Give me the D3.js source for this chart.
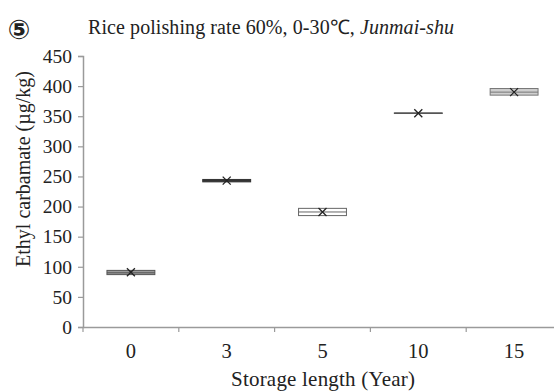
<!DOCTYPE html>
<html>
<head>
<meta charset="utf-8">
<script src="https://cdn.jsdelivr.net/npm/d3@7"></script>
<style>
  html, body { margin: 0; padding: 0; background: #fff; }
  svg { display: block; }
  text { font-family: "Liberation Serif", "Times New Roman", serif; fill: #222; }
</style>
</head>
<body>
<svg id="chart" width="554" height="392"></svg>
<script>
// Storage length categories (years)
const categories = ["0", "3", "5", "10", "15"];
// Ethyl carbamate distribution per storage length (µg/kg)
const q1Values = [87, 241, 185, 354.5, 385];
const q3Values = [94, 245, 197, 355.5, 396];
const medianValues = [90, 243, 191, 355, 390];
const meanValues = [91, 243, 191, 355, 390];
const yTicks = [0, 50, 100, 150, 200, 250, 300, 350, 400, 450];

// Box appearance per category
const boxStyles = [
  { fill: "#9a9a9a", stroke: "#555", width: 1 },
  { fill: "#333", stroke: "#333", width: 1 },
  { fill: "#fff", stroke: "#666", width: 1 },
  { fill: "#555", stroke: "#555", width: 1 },
  { fill: "#cfcfcf", stroke: "#777", width: 1 }
];

const svg = d3.select("#chart");
const plotLeft = 83, plotRight = 562, plotTop = 56, plotBottom = 327;

const x = d3.scaleBand().domain(categories).range([plotLeft, plotRight]).padding(0);
const y = d3.scaleLinear().domain([0, 450]).range([plotBottom, plotTop]);

const axisColor = "#9a9a9a";

// Y axis
const yAxis = svg.append("g")
  .attr("transform", `translate(${plotLeft},0)`)
  .call(d3.axisLeft(y).tickValues(yTicks).tickSize(5).tickPadding(6));
yAxis.select(".domain").attr("stroke", axisColor).attr("stroke-width", 1.5);
yAxis.selectAll(".tick line").attr("stroke", axisColor).attr("stroke-width", 1.2);
yAxis.selectAll(".tick text")
  .attr("font-size", 19.5).attr("fill", "#222");

// X axis: labels centred in bands, tick marks at band boundaries
const xAxis = svg.append("g")
  .attr("transform", `translate(0,${plotBottom})`)
  .call(d3.axisBottom(x).tickSize(0).tickPadding(16).tickSizeOuter(0));
xAxis.select(".domain").attr("stroke", axisColor).attr("stroke-width", 1.5);
xAxis.selectAll(".tick text")
  .attr("font-size", 20.5).attr("fill", "#222");
xAxis.selectAll(".sep")
  .data(categories)
  .join("line")
  .attr("class", "sep")
  .attr("x1", d => x(d)).attr("x2", d => x(d))
  .attr("y1", 0).attr("y2", 5)
  .attr("stroke", axisColor).attr("stroke-width", 1.2);

// Boxes
const boxW = x.bandwidth() * 0.5;
const g = svg.append("g");
categories.forEach((c, i) => {
  const cx = x(c) + x.bandwidth() / 2;
  const st = boxStyles[i];
  g.append("rect")
    .attr("x", cx - boxW / 2)
    .attr("y", y(q3Values[i]))
    .attr("width", boxW)
    .attr("height", Math.max(0.5, y(q1Values[i]) - y(q3Values[i])))
    .attr("fill", st.fill)
    .attr("stroke", st.stroke)
    .attr("stroke-width", st.width);
  g.append("line")
    .attr("x1", cx - boxW / 2).attr("x2", cx + boxW / 2)
    .attr("y1", y(medianValues[i])).attr("y2", y(medianValues[i]))
    .attr("stroke", st.stroke).attr("stroke-width", 1);
  // mean marker
  const my = y(meanValues[i]), s = 4;
  g.append("path")
    .attr("d", `M${cx - s},${my - s}L${cx + s},${my + s}M${cx - s},${my + s}L${cx + s},${my - s}`)
    .attr("stroke", "#222").attr("stroke-width", 1.3).attr("fill", "none");
});

// Title
const title = svg.append("text")
  .attr("x", 88).attr("y", 34)
  .attr("font-size", 20)
  .attr("textLength", 366)
  .attr("lengthAdjust", "spacing");
title.append("tspan").text("Rice polishing rate 60%, 0-30\u2103, ");
title.append("tspan").attr("font-style", "italic").text("Junmai-shu");

// Panel number
svg.append("text")
  .attr("x", 19).attr("y", 39)
  .attr("text-anchor", "middle")
  .style("font-family", "'DejaVu Sans', sans-serif")
  .attr("font-weight", "bold")
  .attr("font-size", 27)
  .text("\u2464");

// Axis titles
svg.append("text")
  .attr("transform", "translate(30,169) rotate(-90)")
  .attr("text-anchor", "middle")
  .attr("font-size", 20)
  .text("Ethyl carbamate (\u00b5g/kg)");

svg.append("text")
  .attr("x", 323).attr("y", 386)
  .attr("text-anchor", "middle")
  .attr("font-size", 21)
  .attr("textLength", 184)
  .attr("lengthAdjust", "spacing")
  .text("Storage length (Year)");
</script>
</body>
</html>
